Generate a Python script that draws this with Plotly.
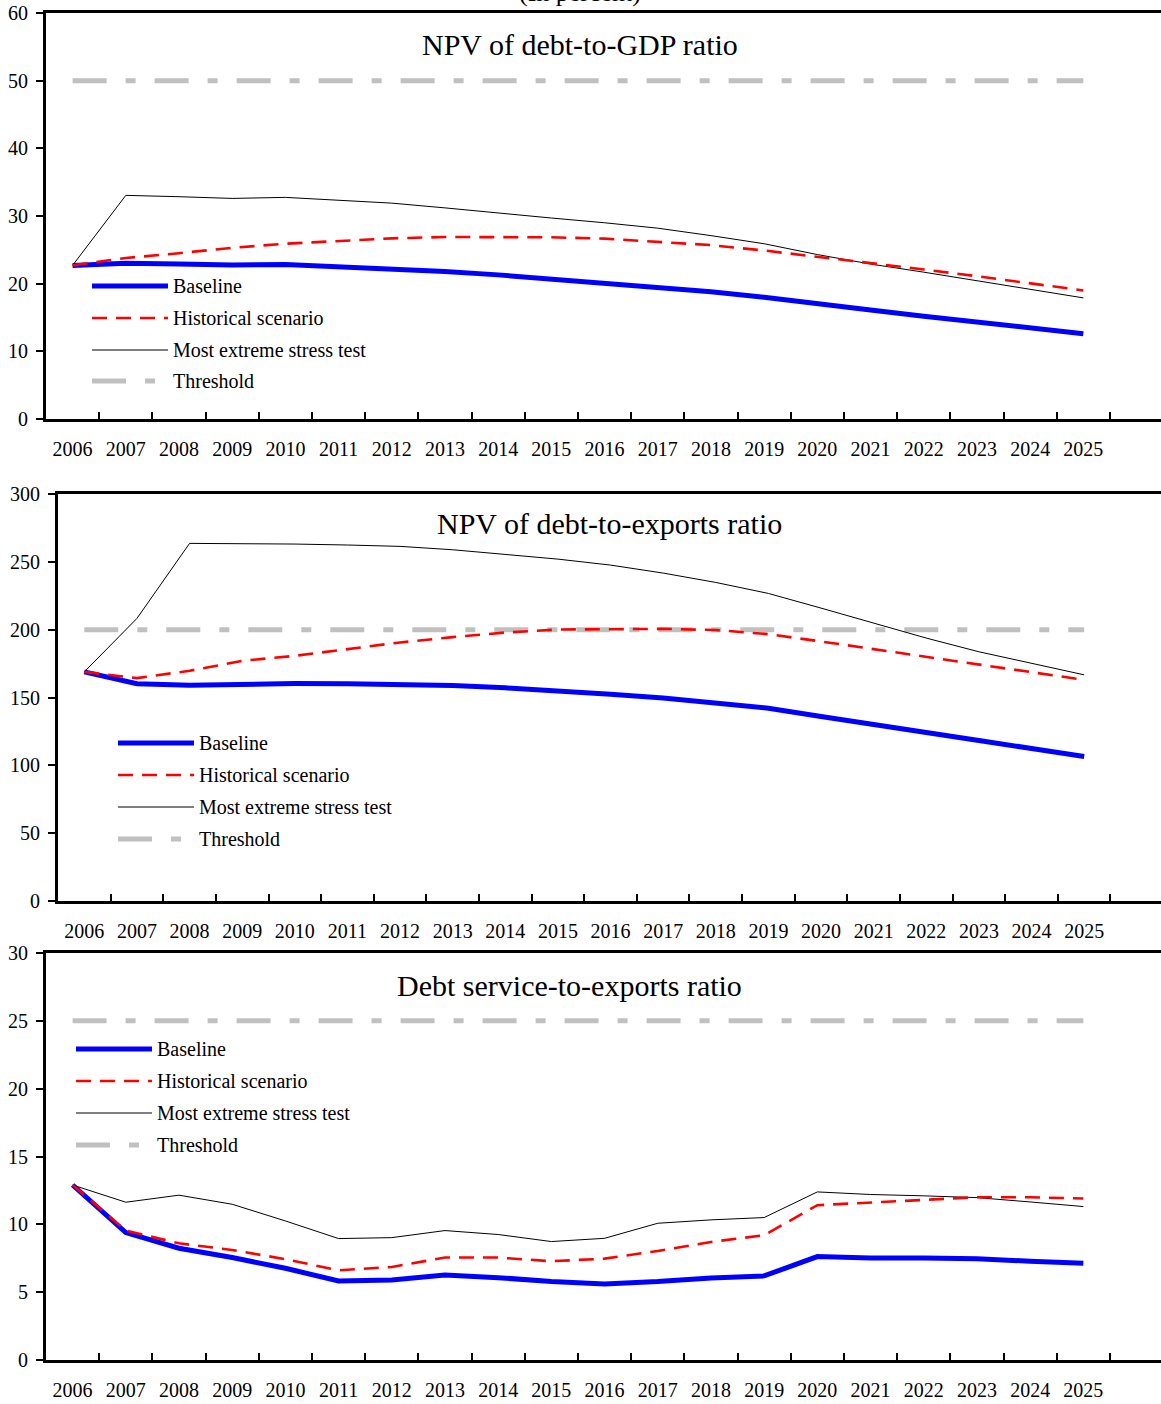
import plotly.graph_objects as go

# ---------------- data ----------------
years = [str(y) for y in range(2006, 2026)]

gdp_baseline = [22.7, 23.0, 22.9, 22.75, 22.85, 22.55, 22.25, 21.8, 21.3, 20.7,
                20.1, 19.5, 18.8, 18.0, 17.0, 16.1, 15.2, 14.3, 13.4, 12.6]
gdp_historical = [22.7, 23.8, 24.5, 25.3, 25.9, 26.3, 26.7, 26.9, 26.9, 26.85,
                  26.65, 26.2, 25.7, 24.9, 24.0, 23.05, 22.1, 21.1, 20.1, 19.0]
gdp_stress = [22.7, 33.05, 32.85, 32.6, 32.75, 32.3, 31.9, 31.2, 30.4, 29.7,
              29.0, 28.2, 27.1, 25.9, 24.3, 22.9, 21.7, 20.4, 19.2, 17.9]
gdp_threshold = [50] * 20

exp_baseline = [168.9, 160.1, 159.1, 159.8, 160.3, 160.1, 159.8, 158.8, 157.1, 155.2,
                152.4, 149.7, 146.3, 142.1, 136.0, 129.8, 124.2, 118.3, 112.4, 106.5]
exp_historical = [168.9, 164.3, 169.7, 177.0, 180.7, 185.6, 190.6, 194.5, 197.9, 200.1,
                  200.6, 200.6, 199.7, 196.7, 191.3, 185.6, 180.2, 174.6, 168.9, 163.0]
exp_stress = [168.9, 208.3, 263.6, 263.6, 263.1, 262.4, 261.4, 258.9, 255.7, 252.0,
              247.6, 241.7, 234.8, 226.7, 215.9, 204.8, 193.8, 183.7, 175.1, 166.7]
exp_threshold = [200] * 20

ds_baseline = [12.9, 9.39, 8.24, 7.55, 6.76, 5.83, 5.9, 6.27, 6.07, 5.78,
               5.61, 5.78, 6.05, 6.2, 7.62, 7.52, 7.52, 7.47, 7.28, 7.13]
ds_historical = [12.9, 9.54, 8.6, 8.11, 7.43, 6.61, 6.86, 7.55, 7.55, 7.28,
                 7.47, 8.04, 8.7, 9.2, 11.41, 11.58, 11.8, 12.0, 12.0, 11.9]
ds_stress = [12.9, 11.63, 12.15, 11.48, 10.25, 8.95, 9.02, 9.54, 9.25, 8.73,
             8.97, 10.08, 10.33, 10.5, 12.39, 12.2, 12.1, 11.97, 11.65, 11.31]
ds_threshold = [25] * 20

titles = ["NPV of debt-to-GDP ratio", "NPV of debt-to-exports ratio",
          "Debt service-to-exports ratio"]
series_names = ["Baseline", "Historical scenario", "Most extreme stress test", "Threshold"]

# ---------------- layout helpers ----------------
W, H = 1161, 1404
FONT = "Liberation Serif, Times New Roman, serif"


def px(x):
    return x / W


def py(y):
    return 1 - y / H


styles = {
    "Baseline": dict(color="#0000FF", width=5, dash="solid"),
    "Historical scenario": dict(color="#FF0000", width=2.6, dash="15px,9px"),
    "Most extreme stress test": dict(color="#000000", width=1, dash="solid"),
    "Threshold": dict(color="#C0C0C0", width=5, dash="34px,19px,10px,19px"),
}

panels = [
    dict(title=titles[0], data=[gdp_baseline, gdp_historical, gdp_stress, gdp_threshold],
         x0=46, top=13, bottom=419, yr=[0, 60], dt=10, title_xy=(580, 45),
         leg_x=92, leg_y=[286, 318, 350, 381]),
    dict(title=titles[1], data=[exp_baseline, exp_historical, exp_stress, exp_threshold],
         x0=58, top=494, bottom=901, yr=[0, 300], dt=50, title_xy=(609, 524),
         leg_x=118, leg_y=[743, 775, 807, 839]),
    dict(title=titles[2], data=[ds_baseline, ds_historical, ds_stress, ds_threshold],
         x0=46, top=953, bottom=1360, yr=[0, 30], dt=5, title_xy=(569, 985),
         leg_x=76, leg_y=[1049, 1081, 1113, 1145]),
]

fig = go.Figure()
annotations = []
shapes = []
draw_order = [3, 0, 2, 1]  # threshold, baseline, stress, historical

for i, p in enumerate(panels):
    k = "" if i == 0 else str(i + 1)
    for j in draw_order:
        name = series_names[j]
        s = styles[name]
        fig.add_trace(go.Scatter(
            x=years, y=p["data"][j], mode="lines", name=name, showlegend=False,
            line=dict(color=s["color"], width=s["width"], dash=s["dash"]),
            xaxis="x" + k, yaxis="y" + k, hoverinfo="skip"))

    fig.update_layout({
        "xaxis" + k: dict(
            domain=[px(p["x0"]), 1], anchor="y" + k, type="category",
            range=[-0.5, 20.46], tickson="boundaries", ticks="inside",
            ticklen=7, tickwidth=2, tickcolor="black", showline=True,
            linewidth=3, linecolor="black", mirror=True, showgrid=False,
            zeroline=False, tickfont=dict(family=FONT, size=20, color="black"),
            ticklabelstandoff=10, ticklabeloverflow="allow",
            automargin=False, fixedrange=True),
        "yaxis" + k: dict(
            domain=[py(p["bottom"]), py(p["top"])], anchor="x" + k,
            range=p["yr"], dtick=p["dt"], tick0=0, ticks="outside", ticklen=7,
            tickwidth=2, tickcolor="black", showline=True, linewidth=3,
            linecolor="black", showgrid=False, zeroline=False,
            tickfont=dict(family=FONT, size=20, color="black"),
            ticklabelstandoff=4, ticklabeloverflow="allow",
            automargin=False, fixedrange=True),
    })

    annotations.append(dict(
        text=p["title"], x=px(p["title_xy"][0]), y=py(p["title_xy"][1]),
        xref="paper", yref="paper", xanchor="center", yanchor="middle",
        showarrow=False, font=dict(family=FONT, size=30, color="black")))

    for j, name in enumerate(series_names):
        s = styles[name]
        yy = py(p["leg_y"][j])
        shapes.append(dict(
            type="line", xref="paper", yref="paper",
            x0=px(p["leg_x"]), x1=px(p["leg_x"] + 76), y0=yy, y1=yy,
            line=dict(color=s["color"], width=s["width"], dash=s["dash"])))
        annotations.append(dict(
            text=name, x=px(p["leg_x"] + 79), y=yy, xref="paper", yref="paper",
            xanchor="left", yanchor="middle", showarrow=False,
            font=dict(family=FONT, size=20, color="black")))

# chart subtitle, mostly cut off at the top edge as in the reference
annotations.append(dict(
    text="(In percent)", x=px(580), y=py(9), xref="paper", yref="paper",
    xanchor="center", yanchor="bottom", showarrow=False,
    font=dict(family=FONT, size=26, color="black")))

fig.update_layout(
    width=W, height=H, margin=dict(l=0, r=0, t=0, b=0),
    paper_bgcolor="white", plot_bgcolor="white",
    annotations=annotations, shapes=shapes, showlegend=False,
    font=dict(family=FONT, color="black"))

fig.write_html("out.html",
               config={"displayModeBar": False, "staticPlot": True},
               post_script="document.body.style.margin='0';"
                           "document.body.style.overflow='hidden';")
